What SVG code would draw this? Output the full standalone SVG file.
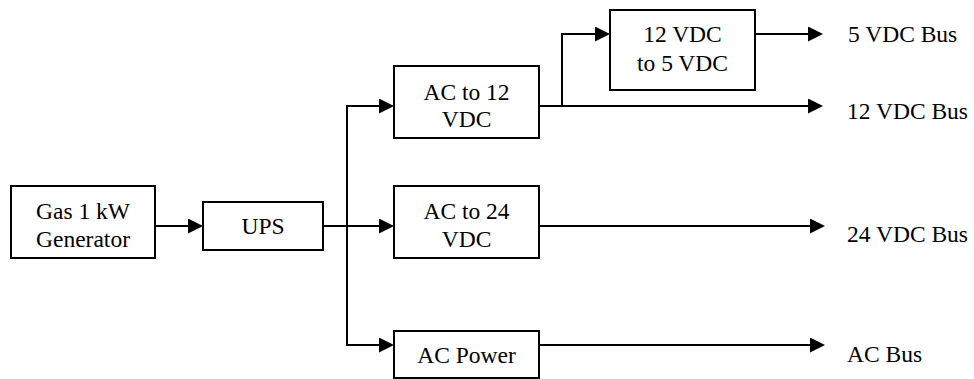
<svg xmlns="http://www.w3.org/2000/svg" width="974" height="379" viewBox="0 0 974 379" font-family="Liberation Serif, Times New Roman, serif" font-size="23.5">
<style>
.box{fill:#fff;stroke:#000;stroke-width:2}
.c{text-anchor:middle}
.ln{fill:none;stroke:#000;stroke-width:2}
</style>
<defs>
<marker id="ah" viewBox="0 0 15 15" refX="7" refY="7.5" markerWidth="15" markerHeight="15" markerUnits="userSpaceOnUse" orient="auto">
<path d="M0,0 L15,7.5 L0,15 Z" fill="#000"/>
</marker>
</defs>
<rect width="974" height="379" fill="#fff"/>
<g id="connectors">
<path class="ln" d="M155,226 H195" marker-end="url(#ah)"/>
<path class="ln" d="M323,226 H386" marker-end="url(#ah)"/>
<path class="ln" d="M347,106 V345"/>
<path class="ln" d="M346,106 H386" marker-end="url(#ah)"/>
<path class="ln" d="M346,345 H386" marker-end="url(#ah)"/>
<path class="ln" d="M539,106 H815" marker-end="url(#ah)"/>
<path class="ln" d="M562,106 V34 H602" marker-end="url(#ah)"/>
<path class="ln" d="M755,34 H815" marker-end="url(#ah)"/>
<path class="ln" d="M539,226 H817" marker-end="url(#ah)"/>
<path class="ln" d="M539,345 H817" marker-end="url(#ah)"/>
</g>
<g id="gen">
<rect class="box" x="11" y="186" width="144" height="72"/>
<text class="c" x="83" y="219">Gas 1 kW</text>
<text class="c" x="83" y="246.5">Generator</text>
</g>
<g id="ups">
<rect class="box" x="203" y="202" width="120" height="48"/>
<text class="c" x="263" y="234">UPS</text>
</g>
<g id="ac12">
<rect class="box" x="394" y="66" width="145" height="72"/>
<text class="c" x="466.5" y="100">AC to 12</text>
<text class="c" x="466.5" y="127">VDC</text>
</g>
<g id="ac24">
<rect class="box" x="394" y="186" width="145" height="72"/>
<text class="c" x="466.5" y="219">AC to 24</text>
<text class="c" x="466.5" y="246.5">VDC</text>
</g>
<g id="acpower">
<rect class="box" x="394" y="331" width="145" height="47"/>
<text class="c" x="466.5" y="362.5">AC Power</text>
</g>
<g id="dc5">
<rect class="box" x="610" y="10" width="145" height="80"/>
<text class="c" x="682.5" y="42">12 VDC</text>
<text class="c" x="682.5" y="71">to 5 VDC</text>
</g>
<g id="bus5"><text x="848" y="42">5 VDC Bus</text></g>
<g id="bus12"><text x="847" y="119">12 VDC Bus</text></g>
<g id="bus24"><text x="847" y="242">24 VDC Bus</text></g>
<g id="busac"><text x="847" y="362">AC Bus</text></g>
</svg>
